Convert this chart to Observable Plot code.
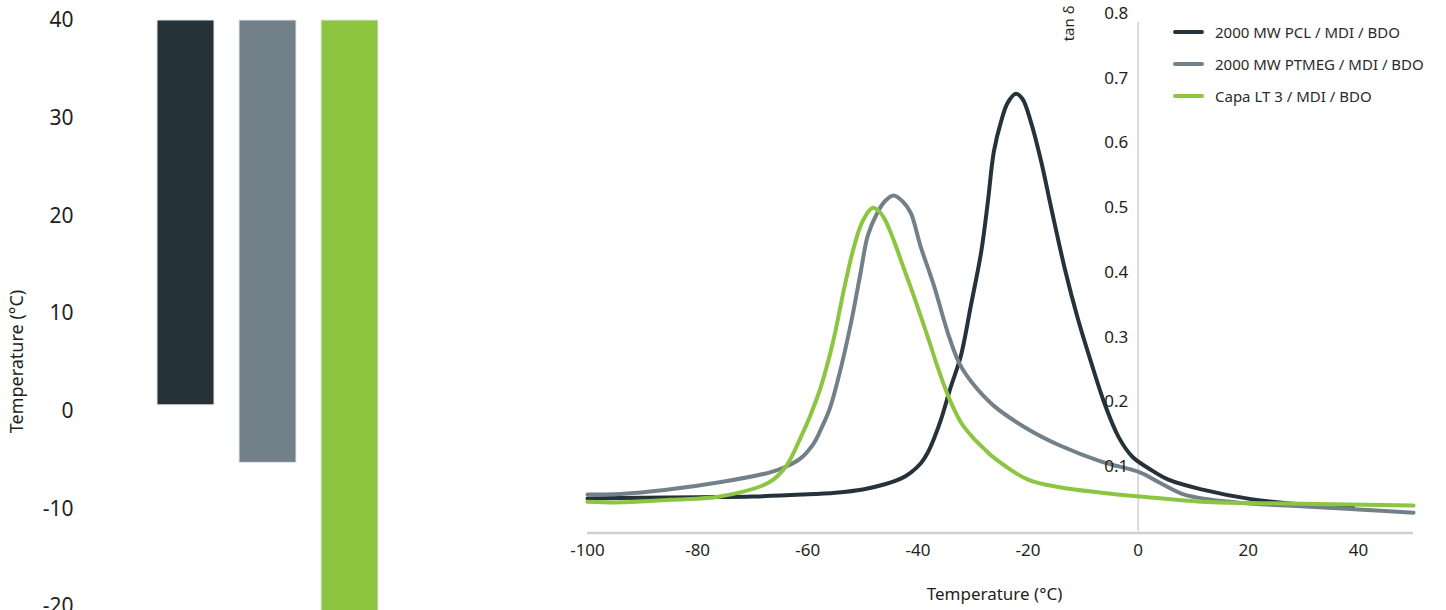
<!DOCTYPE html>
<html>
<head>
<meta charset="utf-8">
<script src="https://cdn.jsdelivr.net/npm/d3@7"></script>
<script src="https://cdn.jsdelivr.net/npm/@observablehq/plot@0.6"></script>
<style>
  html, body { margin: 0; padding: 0; background: #fff; }
  body { width: 1446px; height: 610px; overflow: hidden; position: relative; font-family: "Noto Sans", sans-serif; color: #231f20; }
  #left { position: absolute; left: 0; top: 0; width: 420px; height: 610px; }
  #right { position: absolute; left: 560px; top: 0; width: 886px; height: 610px; }
  #legend { position: absolute; left: 1173px; top: 16px; font-size: 15px; color: #2b2b2b; }
  .row { display: flex; align-items: center; height: 32px; }
  .sw { width: 31px; height: 4px; border-radius: 2px; margin-right: 11px; }
</style>
</head>
<body>
<div id="left"></div>
<div id="right"></div>
<div id="legend"></div>
<script>
// ---- data ----
const seriesNames = ["2000 MW PCL / MDI / BDO", "2000 MW PTMEG / MDI / BDO", "Capa LT 3 / MDI / BDO"];
const seriesColors = ["#25323a", "#72808a", "#8cc540"];

// left panel: temperature ranges (°C)
const barLow = [0.6, -5.3, -30];
const barHigh = [40, 40, 40];
const barTicks = [-20, -10, 0, 10, 20, 30, 40];

// right panel: tan δ vs temperature
const pclT = [-100, -90, -80, -70, -61, -55, -50, -46, -43, -41.3, -39.5, -38.2, -37, -35.8, -34, -32.2, -30.4, -28.5, -27.3, -26.2, -24.9, -23.7, -22.2, -21, -19.5, -17.6, -15.8, -13.3, -11, -8.5, -6, -3.5, -1, 2, 5.5, 11.5, 20.5, 29.6, 39];
const pclV = [0.051, 0.052, 0.053, 0.054, 0.057, 0.060, 0.065, 0.073, 0.082, 0.091, 0.105, 0.122, 0.145, 0.173, 0.224, 0.271, 0.348, 0.432, 0.509, 0.587, 0.633, 0.662, 0.676, 0.668, 0.633, 0.571, 0.500, 0.405, 0.330, 0.260, 0.195, 0.145, 0.115, 0.097, 0.080, 0.065, 0.050, 0.042, 0.038];

const ptmegT = [-100, -94, -86, -76, -67, -64, -61.3, -59, -57.6, -56, -54.5, -52.2, -50.4, -49.1, -47.5, -46, -44.4, -42.8, -41.3, -39.5, -37.1, -34.5, -32.5, -30, -26.2, -20, -14, -6.7, 0.4, 4, 8.4, 17.5, 29.6, 40, 50];
const ptmegV = [0.057, 0.058, 0.064, 0.076, 0.091, 0.100, 0.113, 0.135, 0.158, 0.190, 0.235, 0.320, 0.400, 0.457, 0.490, 0.510, 0.519, 0.510, 0.492, 0.440, 0.380, 0.305, 0.260, 0.228, 0.194, 0.158, 0.132, 0.108, 0.091, 0.075, 0.057, 0.045, 0.039, 0.034, 0.029];

const capaT = [-100, -94, -85, -76, -67, -64, -61.3, -59.5, -57.6, -55.3, -53.4, -51.6, -50, -48.2, -47, -46, -45, -44, -42.5, -41, -39.5, -38, -36.5, -35, -33.5, -32, -30, -28, -26.2, -20, -14, -6.7, 0.4, 11.5, 29.6, 50];
const capaV = [0.046, 0.045, 0.049, 0.054, 0.076, 0.100, 0.145, 0.180, 0.224, 0.297, 0.375, 0.440, 0.480, 0.500, 0.494, 0.482, 0.463, 0.441, 0.405, 0.370, 0.333, 0.295, 0.256, 0.220, 0.190, 0.166, 0.145, 0.128, 0.114, 0.080, 0.068, 0.060, 0.054, 0.046, 0.043, 0.040];

const xTicks = [-100, -80, -60, -40, -20, 0, 20, 40];
const yTicks = [0.1, 0.2, 0.3, 0.4, 0.5, 0.6, 0.7, 0.8];

// ---- build tables ----
const bars = seriesNames.map((name, i) => ({name, low: barLow[i], high: barHigh[i]}));
const curves = [
  ...pclT.map((t, i) => ({series: seriesNames[0], t, v: pclV[i]})),
  ...ptmegT.map((t, i) => ({series: seriesNames[1], t, v: ptmegV[i]})),
  ...capaT.map((t, i) => ({series: seriesNames[2], t, v: capaV[i]}))
];
const font = "'Noto Sans', 'Open Sans', sans-serif";
const hyphen = d => String(d);

// ---- left panel ----
const left = Plot.plot({
  width: 420, height: 610,
  marginLeft: 132, marginRight: 17, marginTop: 20, marginBottom: 4,
  style: {fontFamily: font, fontSize: "21px", color: "#231f20", background: "transparent"},
  x: {domain: seriesNames, padding: 0.3, axis: null},
  y: {domain: [-20, 40], axis: null},
  color: {domain: seriesNames, range: seriesColors},
  marks: [
    Plot.barY(bars, {x: "name", y1: "low", y2: "high", fill: "name", stroke: "#e4e8ea", strokeWidth: 1}),
    Plot.axisY({ticks: barTicks, tickFormat: hyphen, tickSize: 0, tickPadding: 59, label: null, fontSize: 21}),
    Plot.text(["Temperature (°C)"], {frameAnchor: "left", textAnchor: "middle", lineAnchor: "middle", rotate: -90, dx: -115, dy: 48, fontSize: 18, fill: "#231f20"})
  ]
});
document.getElementById("left").appendChild(left);

// ---- right panel ----
const right = Plot.plot({
  width: 886, height: 610,
  marginLeft: 27, marginRight: 33, marginTop: 13, marginBottom: 79,
  style: {fontFamily: font, fontSize: "17px", color: "#231f20", background: "transparent"},
  x: {domain: [-100, 50], axis: null},
  y: {domain: [0, 0.8], axis: null},
  color: {domain: seriesNames, range: seriesColors},
  marks: [
    Plot.ruleY([0], {stroke: "#cfcfcf", strokeWidth: 2.5, dy: 1.5}),
    Plot.ruleX([0], {y1: 0, y2: 0.786, stroke: "#d0d0d0", strokeWidth: 1.5}),
    Plot.line(curves, {x: "t", y: "v", z: "series", stroke: "series", strokeWidth: 4, curve: "catmull-rom", strokeLinejoin: "round", strokeLinecap: "round"}),
    Plot.text(yTicks, {x: 0, y: d => d, text: d => d.toFixed(1), dx: -10, textAnchor: "end", fontSize: 17, fill: "#231f20"}),
    Plot.axisX({ticks: xTicks, tickFormat: hyphen, tickSize: 0, tickPadding: 12, label: null, fontSize: 17}),
    Plot.text(["Temperature (°C)"], {frameAnchor: "bottom", lineAnchor: "middle", dx: -6, dy: 63, fontSize: 17, fill: "#231f20"}),
    Plot.text(["tan δ"], {x: 0, y: 0.8, rotate: -90, textAnchor: "end", dx: -69, dy: -8, fontSize: 15, fill: "#231f20"})
  ]
});
document.getElementById("right").appendChild(right);

// ---- legend ----
const legend = document.getElementById("legend");
seriesNames.forEach((name, i) => {
  const row = document.createElement("div");
  row.className = "row";
  const sw = document.createElement("span");
  sw.className = "sw";
  sw.style.background = seriesColors[i];
  const label = document.createElement("span");
  label.textContent = name;
  row.appendChild(sw);
  row.appendChild(label);
  legend.appendChild(row);
});
</script>
</body>
</html>
